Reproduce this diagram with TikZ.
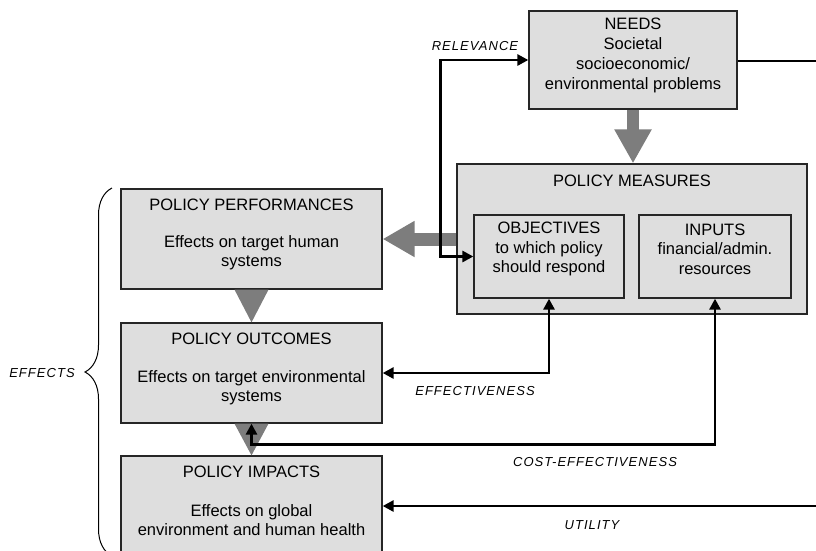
\documentclass[tikz,border=0pt]{standalone}
\usepackage{fontspec}
\setmainfont{Liberation Sans}
\newfontfamily\lblfamily[LetterSpace=8]{Liberation Sans}
\usetikzlibrary{arrows.meta,decorations.pathreplacing}
\definecolor{boxfill}{RGB}{222,222,222}
\definecolor{arrgray}{RGB}{125,125,125}
\newcommand\boxfnt{\fontsize{16.5}{19.5}\selectfont}
\newcommand\lblfnt{\lblfamily\itshape\fontsize{13}{15}\selectfont}
\tikzset{
  box/.style={draw=black!85, line width=1.3pt, fill=boxfill, inner sep=0pt},
  txt/.style={font=\boxfnt, align=center, inner sep=0pt},
  lbl/.style={font=\lblfnt, inner sep=0pt},
  conn/.style={line width=2.8pt, draw=black},
  tip/.tip={Triangle[length=11pt,width=11pt]},
  garrow/.style={draw=arrgray},
}
\begin{document}
\begin{tikzpicture}[x=1pt,y=-1pt]
\useasboundingbox (0,0) rectangle (816,550);
% boxes
\node[box, minimum width=208, minimum height=98] (needs) at (633,60) {};
\node[box, minimum width=350, minimum height=150] (pm) at (632,239) {};
\node[box, minimum width=150, minimum height=83] (obj) at (549,256.5) {};
\node[box, minimum width=152, minimum height=83] (inp) at (715,256.5) {};
\node[box, minimum width=261, minimum height=100] (perf) at (251.5,239) {};
\node[box, minimum width=261, minimum height=100] (out) at (251.5,373) {};
\node[box, minimum width=261, minimum height=100] (imp) at (251.5,506) {};
% texts
\node[txt, font=\fontsize{16.5}{20}\selectfont] (needsT) at (633,55.5) {NEEDS\\Societal\\socioeconomic/\\environmental problems};
\node[txt] (pmT) at (632,181) {POLICY MEASURES};
\node[txt] (objT) at (549,249) {OBJECTIVES\\to which policy\\should respond};
\node[txt] (inpT) at (715,249) {INPUTS\\financial/admin.\\resources};
\node[txt] (perfTa) at (251.5,205) {POLICY PERFORMANCES};
\node[txt] (perfTb) at (251.5,252.5) {Effects on target human\\systems};
\node[txt] (outTa) at (251.5,339) {POLICY OUTCOMES};
\node[txt] (outTb) at (251.5,387.5) {Effects on target environmental\\systems};
\node[txt] (impTa) at (251.5,472) {POLICY IMPACTS};
\node[txt] (impTb) at (251.5,520) {Effects on global\\environment and human health};
% gray arrows
\draw[garrow, line width=12pt, -{Triangle[length=34pt,width=35pt]}] (needs.south) -- (needs.south |- pm.north);
\draw[garrow, line width=13pt, -{Triangle[length=32pt,width=34pt]}] (pm.west) -- (perf.east);
\fill[arrgray] ([xshift=-17pt]perf.south) -- ([xshift=17pt]perf.south) -- (out.north) -- cycle;
\fill[arrgray] ([xshift=-17pt]out.south) -- ([xshift=17pt]out.south) -- (imp.north) -- cycle;
% right-side free ends
\coordinate (nR) at (822,61);
\coordinate (uR) at (822,506);
% black connectors
\draw[conn, {tip}-{tip}] (needs.west) -- ++(-88,0) |- (obj.west);
\draw[conn, {tip}-{tip}] (obj.south) |- (out.east);
\draw[conn, {tip}-{tip}] (inp.south) -- ++(0,146) -| (out.south);
\draw[conn] (needs.east |- nR) -- (nR);
\draw[conn, -{tip}] (uR) -- (imp.east);
% labels
\node[lbl] (lrel) at (475,46) {RELEVANCE};
\node[lbl] (leff) at (475,391) {EFFECTIVENESS};
\node[lbl] (lcost) at (595,462) {COST-EFFECTIVENESS};
\node[lbl] (lut) at (592,525) {UTILITY};
% brace
\draw[decorate, decoration={brace, amplitude=27pt, aspect=0.5}, line width=1pt] (112,556) -- (112,188);
\node[lbl] (leffects) at (42,373) {EFFECTS};
\end{tikzpicture}
\end{document}
